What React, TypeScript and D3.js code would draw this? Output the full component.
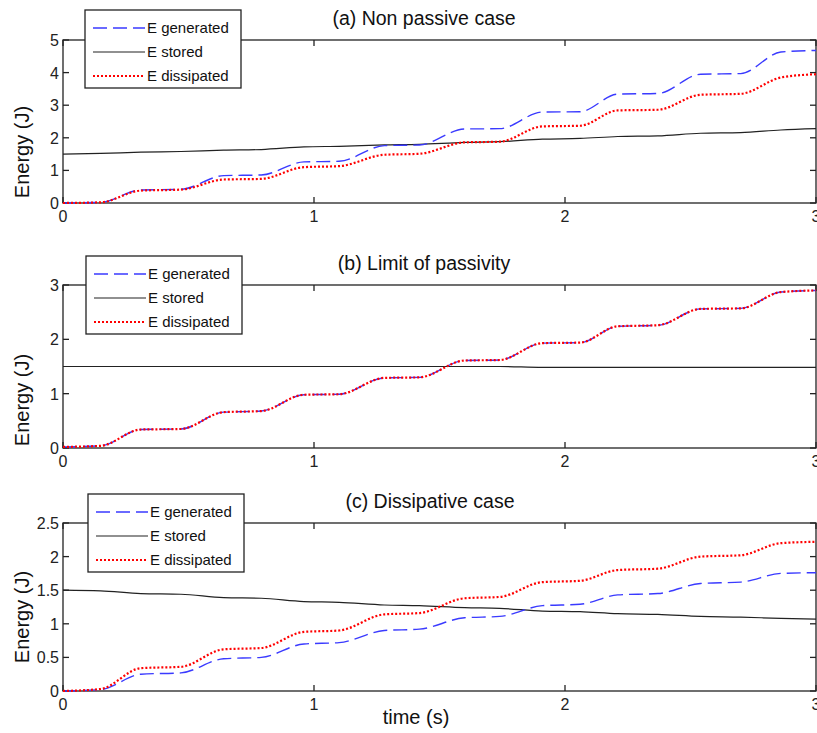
import React from 'react';
import * as d3 from 'd3';

// knot times (s): start/end of each plateau of the step-like energy curves
const TIME = [0, 0.15, 0.31, 0.47, 0.64, 0.79, 0.96, 1.1, 1.28, 1.42, 1.6, 1.74, 1.91, 2.06, 2.21, 2.37, 2.54, 2.7, 2.86, 3.0];

const A_GENERATED = [0, 0.02, 0.4, 0.42, 0.84, 0.86, 1.26, 1.28, 1.76, 1.78, 2.27, 2.28, 2.79, 2.8, 3.34, 3.36, 3.95, 3.97, 4.63, 4.68];
const A_STORED = [1.5, 1.52, 1.56, 1.58, 1.62, 1.64, 1.72, 1.74, 1.78, 1.8, 1.86, 1.88, 1.96, 1.98, 2.04, 2.06, 2.14, 2.16, 2.24, 2.28];
const A_DISSIPATED = [0, 0.02, 0.38, 0.41, 0.72, 0.74, 1.1, 1.13, 1.48, 1.51, 1.86, 1.88, 2.35, 2.37, 2.84, 2.86, 3.32, 3.35, 3.85, 3.95];

const B_GENERATED = [0.02, 0.04, 0.34, 0.35, 0.66, 0.68, 0.98, 0.99, 1.29, 1.3, 1.61, 1.62, 1.93, 1.94, 2.24, 2.26, 2.56, 2.57, 2.87, 2.9];
const B_STORED = [1.5, 1.5, 1.5, 1.5, 1.5, 1.5, 1.5, 1.5, 1.5, 1.5, 1.5, 1.5, 1.485, 1.485, 1.485, 1.485, 1.485, 1.485, 1.485, 1.485];
const B_DISSIPATED = [0.02, 0.04, 0.34, 0.35, 0.66, 0.68, 0.98, 0.99, 1.29, 1.3, 1.61, 1.62, 1.93, 1.94, 2.24, 2.26, 2.56, 2.57, 2.87, 2.9];

const C_GENERATED = [0, 0.02, 0.25, 0.27, 0.48, 0.5, 0.7, 0.72, 0.9, 0.92, 1.09, 1.11, 1.27, 1.29, 1.43, 1.45, 1.6, 1.62, 1.75, 1.76];
const C_STORED = [1.5, 1.49, 1.45, 1.44, 1.39, 1.38, 1.33, 1.32, 1.28, 1.27, 1.24, 1.23, 1.19, 1.18, 1.15, 1.14, 1.11, 1.1, 1.08, 1.07];
const C_DISSIPATED = [0, 0.03, 0.34, 0.36, 0.62, 0.64, 0.88, 0.9, 1.14, 1.16, 1.38, 1.4, 1.62, 1.64, 1.8, 1.82, 2.0, 2.02, 2.2, 2.22];

const TITLES = ['(a) Non passive case', '(b) Limit of passivity', '(c) Dissipative case'];
const Y_MAX = [5, 3, 2.5];
const Y_TICKS = [[0, 1, 2, 3, 4, 5], [0, 1, 2, 3], [0, 0.5, 1, 1.5, 2, 2.5]];
const X_TICKS = [0, 1, 2, 3];
const LEGEND = ['E generated', 'E stored', 'E dissipated'];

const FONT = '"Liberation Sans", Arial, sans-serif';
const W = 817;
const H = 733;
const LEFT = 63;
const RIGHT = 816;

const layout = [
  { top: 40, bottom: 203, labelY: 152, titleX: 424, legend: { x: 85, y: 10 } },
  { top: 285, bottom: 448, labelY: 400, titleX: 424, legend: { x: 86, y: 256 } },
  { top: 523, bottom: 691, labelY: 617, titleX: 430, legend: { x: 88, y: 494 } },
];

const series = [
  [A_GENERATED, A_STORED, A_DISSIPATED],
  [B_GENERATED, B_STORED, B_DISSIPATED],
  [C_GENERATED, C_STORED, C_DISSIPATED],
];

const styles = [
  { stroke: '#3a3aff', width: 1.4, dash: '14,6' },
  { stroke: '#222', width: 1.2, dash: undefined as string | undefined },
  { stroke: '#ff0000', width: 2.2, dash: '2,2' },
];

const x = d3.scaleLinear().domain([0, 3]).range([LEFT, RIGHT]);

function Panel({ i }: { i: number }) {
  const L = layout[i];
  const y = d3.scaleLinear().domain([0, Y_MAX[i]]).range([L.bottom, L.top]);
  const line = d3.line<number>()
    .x((_, k) => x(TIME[k]))
    .y(d => y(d))
    .curve(d3.curveMonotoneX);
  const fmt = (v: number) => (Number.isInteger(v) ? String(v) : String(v));
  const order = [1, 0, 2];
  return (
    <g>
      {/* frame */}
      <rect x={LEFT} y={L.top} width={RIGHT - LEFT} height={L.bottom - L.top} fill="none" stroke="#222" strokeWidth={1.3} />
      {X_TICKS.map(t => (
        <g key={'x' + t}>
          <line x1={x(t)} x2={x(t)} y1={L.bottom} y2={L.bottom - 6} stroke="#222" strokeWidth={1.3} />
          <line x1={x(t)} x2={x(t)} y1={L.top} y2={L.top + 6} stroke="#222" strokeWidth={1.3} />
          <text x={x(t)} y={L.bottom + 19} textAnchor="middle" fontSize={16} fontFamily={FONT} fill="#222">{t}</text>
        </g>
      ))}
      {Y_TICKS[i].map(v => (
        <g key={'y' + v}>
          <line x1={LEFT} x2={LEFT + 6} y1={y(v)} y2={y(v)} stroke="#222" strokeWidth={1.3} />
          <line x1={RIGHT} x2={RIGHT - 6} y1={y(v)} y2={y(v)} stroke="#222" strokeWidth={1.3} />
          <text x={59} y={y(v) + 6} textAnchor="end" fontSize={16} fontFamily={FONT} fill="#222">{fmt(v)}</text>
        </g>
      ))}
      {order.map(s => (
        <path key={s} d={line(series[i][s]) || ''} fill="none" stroke={styles[s].stroke}
          strokeWidth={styles[s].width} strokeDasharray={styles[s].dash} />
      ))}
      <text transform={`translate(29,${L.labelY}) rotate(-90)`} textAnchor="middle" fontSize={20} fontFamily={FONT} fill="#111">Energy (J)</text>
      <text x={L.titleX} y={L.top - 15} textAnchor="middle" fontSize={19.5} fontFamily={FONT} fill="#111">{TITLES[i]}</text>
      {/* legend */}
      <g transform={`translate(${L.legend.x},${L.legend.y})`}>
        <rect x={0} y={0} width={156} height={78} fill="#fff" stroke="#222" strokeWidth={1.3} />
        {LEGEND.map((name, k) => (
          <g key={name}>
            <line x1={8} x2={60} y1={18 + k * 24} y2={18 + k * 24} stroke={styles[k].stroke}
              strokeWidth={styles[k].width} strokeDasharray={styles[k].dash} />
            <text x={62} y={23 + k * 24} fontSize={15} fontFamily={FONT} fill="#111">{name}</text>
          </g>
        ))}
      </g>
    </g>
  );
}

export default function App() {
  return (
    <svg width={W} height={H} style={{ position: 'absolute', left: 0, top: 0, background: '#fff' }}>
      <rect width={W} height={H} fill="#fff" />
      {[0, 1, 2].map(i => <Panel key={i} i={i} />)}
      <text x={416} y={724} textAnchor="middle" fontSize={20} fontFamily={FONT} fill="#111">time (s)</text>
    </svg>
  );
}
